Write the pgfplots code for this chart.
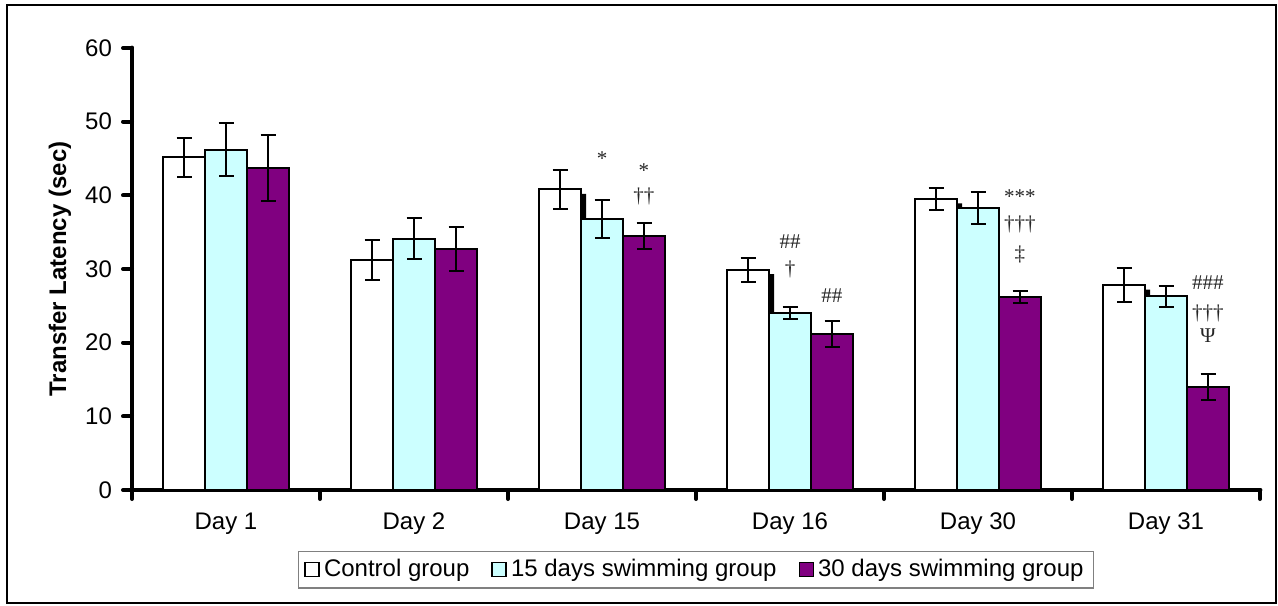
\documentclass[border=0pt]{standalone}
\usepackage{fontspec}
\setmainfont{Liberation Sans}
\newfontfamily\serifann{Liberation Serif}
\usepackage{pgfplots}
\usepackage{pgfplotstable}
\pgfplotsset{compat=1.18}
\definecolor{cyanfill}{HTML}{CCFFFF}
\definecolor{purplefill}{HTML}{800080}
\pgfplotstableread{
x   c     ce    s     se    p     pe    sh
0   45.2  2.65  46.2  3.6   43.7  4.5   44.6
1   31.2  2.7   34.1  2.8   32.7  3.0   30.6
2   40.8  2.7   36.8  2.6   34.5  1.8   40.2
3   29.9  1.6   24.0  0.8   21.2  1.75  29.3
4   39.5  1.45  38.3  2.2   26.2  0.85  38.9
5   27.8  2.3   26.3  1.45  14.0  1.8   27.2
}\datatable
\begin{document}
\begin{tikzpicture}[font=\fontsize{12}{14}\selectfont]
\useasboundingbox (0pt,0pt) rectangle (639pt,302.5pt);
\draw[line width=1pt] (3.5pt,1pt) rectangle (638pt,300pt);
\begin{axis}[
  at={(66pt,57.5pt)}, anchor=south west,
  scale only axis, width=564pt, height=221pt,
  xmin=-0.5, xmax=5.5, ymin=0, ymax=60,
  ybar=0pt, bar width=21pt,
  axis x line*=bottom, axis y line*=left,
  axis line style={line width=2.4pt, line cap=round},
  every outer x axis line/.append style={line width=2.4pt},
  every outer y axis line/.append style={line width=2.4pt},
  /pgf/number format/assume math mode=true,
  ytick={0,10,...,60},
  xtick={-0.5,0.5,1.5,2.5,3.5,4.5,5.5},
  xticklabels={},
  extra x ticks={0,1,2,3,4,5},
  extra x tick labels={Day 1,Day 2,Day 15,Day 16,Day 30,Day 31},
  extra x tick style={major tick length=0pt, tick style={draw=none},
     xticklabel style={yshift=-8pt}},
  tick align=outside,
  major tick length=4.5pt,
  tick style={line width=2pt, line cap=round, black},
  ticklabel style={font=\fontsize{12}{14}\selectfont},
  yticklabel style={xshift=-2pt},
  ylabel={\bfseries Transfer Latency (sec)},
  ylabel style={at={(axis description cs:-0.0638,0.5)}, anchor=center, font=\fontsize{12}{14}\selectfont},
  legend columns=3,
  legend style={at={(0.5,-0.18)}, anchor=center, draw=gray, line width=0.75pt,
    inner xsep=3pt, inner ysep=2pt, font=\fontsize{12}{14}\selectfont,
    /tikz/every even column/.append style={column sep=9pt}},
  legend cell align=left,
  error bars/y dir=both, error bars/y explicit,
  error bars/error bar style={line width=1pt, black, solid},
  error bars/error mark options={rotate=90, mark size=3.75pt, line width=1pt, black, solid},
]
\addplot[bar shift=-21pt, fill=white, draw=black, line width=1pt, forget plot]
  table[x=x, y=c, y error=ce] {\datatable};
\addplot[bar shift=-9.2pt, bar width=2.6pt, fill=black, draw=none, forget plot,
  error bars/y dir=none]
  table[x=x, y=sh] {\datatable};
\addplot[bar shift=0pt, fill=cyanfill, draw=black, line width=1pt, forget plot]
  table[x=x, y=s, y error=se] {\datatable};
\addplot[bar shift=21pt, fill=purplefill, draw=black, line width=1pt, forget plot]
  table[x=x, y=p, y error=pe] {\datatable};
\addlegendimage{legend image code/.code={\draw[fill=white,draw=black,line width=0.8pt] (0pt,-3.5pt) rectangle (7pt,3.5pt);}}
\addlegendentry{Control group}
\addlegendimage{legend image code/.code={\draw[fill=cyanfill,draw=black,line width=0.8pt] (0pt,-3.5pt) rectangle (7pt,3.5pt);}}
\addlegendentry{15 days swimming group}
\addlegendimage{legend image code/.code={\draw[fill=purplefill,draw=black,line width=0.8pt] (0pt,-3.5pt) rectangle (7pt,3.5pt);}}
\addlegendentry{30 days swimming group}
\begin{scope}[every node/.style={anchor=base, font=\serifann\fontsize{10.5}{11}\selectfont, text=black!85, inner sep=0pt}]
\node at (axis cs:2,44.05) {*};
\node at (axis cs:2.223,42.42) {*};
\node at (axis cs:2.223,39.09) {††};
\node at (axis cs:3,32.85) {\#\#};
\node at (axis cs:3,29.05) {†};
\node at (axis cs:3.223,25.52) {\#\#};
\node at (axis cs:4.223,38.89) {***};
\node at (axis cs:4.223,35.16) {†††};
\node at (axis cs:4.223,31.22) {‡};
\node at (axis cs:5.223,27.28) {\#\#\#};
\node at (axis cs:5.223,23.21) {†††};
\node at (axis cs:5.223,20.09) {Ψ};
\end{scope}
\end{axis}
\end{tikzpicture}
\end{document}
